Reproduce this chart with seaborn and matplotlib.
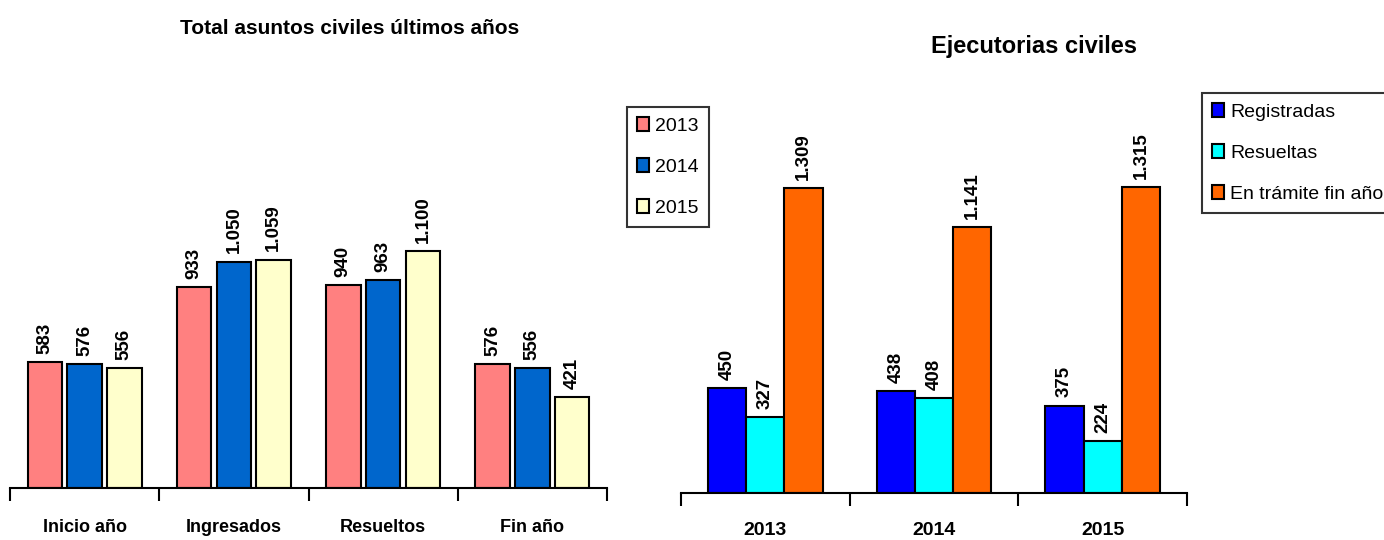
import numpy as np
import pandas as pd
import matplotlib
matplotlib.use("Agg")
import matplotlib.pyplot as plt
import seaborn as sns

# Left chart data
cats_left = ["Inicio año", "Ingresados", "Resueltos", "Fin año"]
years_left = ["2013", "2014", "2015"]
vals_2013 = [583, 933, 940, 576]
vals_2014 = [576, 1050, 963, 556]
vals_2015 = [556, 1059, 1100, 421]
colors_left = ["#FF8080", "#0066CC", "#FFFFCC"]

# Right chart data
cats_right = ["2013", "2014", "2015"]
series_right = ["Registradas", "Resueltas", "En trámite fin año"]
registradas = [450, 438, 375]
resueltas = [327, 408, 224]
en_tramite = [1309, 1141, 1315]
colors_right = ["#0000FF", "#00FFFF", "#FF6600"]

sns.set_style("white")
plt.rcParams['font.family'] = ['Liberation Sans', 'DejaVu Sans']
plt.rcParams['text.color'] = 'black'
plt.rcParams['xtick.color'] = 'black'

W, H = 1384, 540
fig = plt.figure(figsize=(W / 100, H / 100), dpi=100)


def fmt(v):
    return f"{v:,}".replace(",", ".")


def make_df(cats, names, series):
    rows = []
    for name, vals in zip(names, series):
        for c, v in zip(cats, vals):
            rows.append({"cat": c, "serie": name, "val": v})
    return pd.DataFrame(rows)


def style_axis(ax, n, ymax, labsize, pad):
    ax.set_xlim(-0.5, n - 0.5)
    ax.set_ylim(0, ymax)
    for s in ["left", "right", "top"]:
        ax.spines[s].set_visible(False)
    ax.spines["bottom"].set_color("black")
    ax.spines["bottom"].set_linewidth(1.5)
    ax.set_yticks([])
    ax.set_xlabel("")
    ax.set_ylabel("")
    ax.set_xticks(np.arange(-0.5, n, 1), minor=True)
    ax.tick_params(axis="x", which="minor", bottom=True, length=9, width=1.5,
                   color="black", direction="out")
    ax.tick_params(axis="x", which="major", length=0, pad=pad,
                   labelcolor="black")
    for lab in ax.get_xticklabels():
        lab.set_fontweight("bold")
        lab.set_fontsize(labsize)


def draw(ax, df, names, colors, width, gap, ymax, n, labsize, pad):
    sns.barplot(data=df, x="cat", y="val", hue="serie", hue_order=names,
                palette=colors, width=width, gap=gap, edgecolor="black",
                linewidth=1.5, saturation=1, ax=ax)
    for cont in ax.containers:
        ax.bar_label(cont, labels=[fmt(int(b.get_height())) for b in cont],
                     rotation=90, padding=6, fontsize=13.5, fontweight="bold",
                     color="black")
    handles, labels = ax.get_legend_handles_labels()
    ax.get_legend().remove()
    style_axis(ax, n, ymax, labsize, pad)
    return handles, labels


# Left chart
ax1 = fig.add_axes([10 / W, 52 / H, 597 / W, 431 / H])
df_left = make_df(cats_left, years_left, [vals_2013, vals_2014, vals_2015])
h1, l1 = draw(ax1, df_left, years_left, colors_left, 0.8, 0.13, 2000, 4, 13, 22)
fig.text(350 / W, 1 - 28 / H, "Total asuntos civiles últimos años",
         ha="center", va="center", fontsize=15, fontweight="bold")

# Right chart
ax2 = fig.add_axes([681 / W, 47 / H, 506 / W, 419 / H])
df_right = make_df(cats_right, series_right, [registradas, resueltas, en_tramite])
h2, l2 = draw(ax2, df_right, series_right, colors_right, 0.68, 0, 1800, 3, 14, 21)
fig.text(1034 / W, 1 - 46 / H, "Ejecutorias civiles",
         ha="center", va="center", fontsize=17, fontweight="bold")

leg_kw = dict(fontsize=14, frameon=True, fancybox=False, edgecolor="black",
              handlelength=0.65, handleheight=0.75, handletextpad=0.3,
              labelspacing=1.2, borderpad=0.5, borderaxespad=0,
              loc="upper left", labelcolor="black")
lg1 = fig.legend(h1, l1, bbox_to_anchor=(627 / W, 1 - 107 / H), **leg_kw)
lg2 = fig.legend(h2, l2, bbox_to_anchor=(1202 / W, 1 - 93 / H), **leg_kw)
for lg in (lg1, lg2):
    lg.get_frame().set_linewidth(1.5)
    for p in lg.get_patches():
        p.set_edgecolor("black")
        p.set_linewidth(1.5)

fig.savefig("out.png", dpi=100)
